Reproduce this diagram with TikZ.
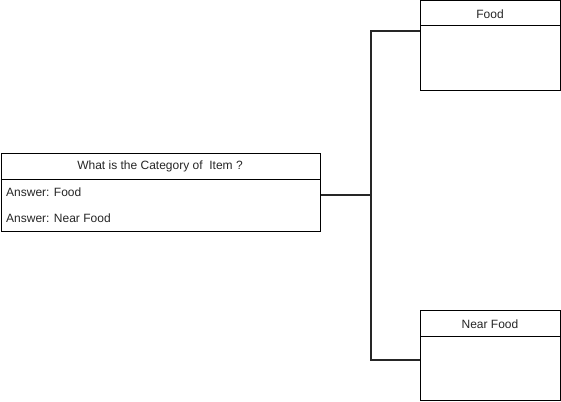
\documentclass[tikz,border=0pt]{standalone}
\usepackage{fontspec}
\setmainfont{Liberation Sans}
\begin{document}
\begin{tikzpicture}[x=1pt,y=-1pt,
  box/.style={draw=black, line width=1pt, inner sep=0pt, anchor=north west, fill=white},
  lbl/.style={font=\fontsize{12}{14}\selectfont, inner sep=0pt, text=black!85},
  hdr/.style={draw=black, line width=1pt},
  conn/.style={draw=black!85, line width=2pt}]
\useasboundingbox (0,0) rectangle (561,401);
% left question box
\node[box, minimum width=319.5pt, minimum height=78pt] (q) at (0.5,153) {};
\draw[hdr] ([yshift=-26pt]q.north west) -- ([yshift=-26pt]q.north east);
\node[lbl] (qt) at (160,166) {What is the Category of \ Item ?};
\node[lbl, anchor=west] (a1) at (6,192) {Answer: Food};
\node[lbl, anchor=west] (a2) at (6,218) {Answer: Near Food};
% top box
\node[box, minimum width=140pt, minimum height=89.5pt] (f) at (420,0.5) {};
\draw[hdr] ([yshift=-25.5pt]f.north west) -- ([yshift=-25.5pt]f.north east);
\node[lbl] (ft) at (490,14) {Food};
% bottom box
\node[box, minimum width=140pt, minimum height=90pt] (n) at (420,310) {};
\draw[hdr] ([yshift=-26pt]n.north west) -- ([yshift=-26pt]n.north east);
\node[lbl] (nt) at (490,324) {Near Food};
% connectors
\coordinate (qo) at ([yshift=-42pt]q.north east);
\coordinate (fi) at ([yshift=-30.5pt]f.north west);
\coordinate (ni) at ([yshift=-50pt]n.north west);
\coordinate (mid) at (371,195);
\draw[conn] (qo) -- (mid);
\draw[conn] (fi) -| (mid) |- (ni);
\end{tikzpicture}
\end{document}
